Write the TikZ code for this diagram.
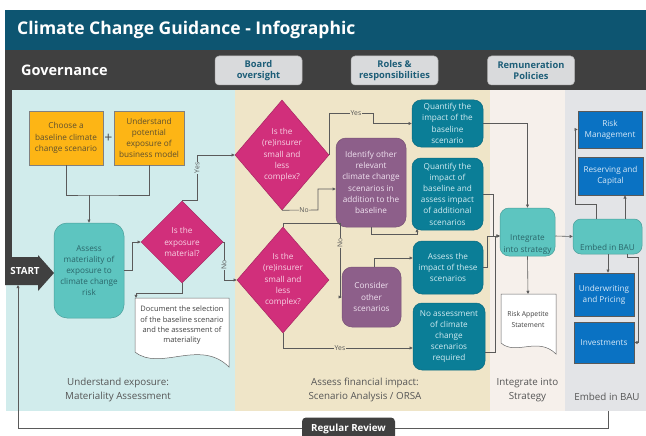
\documentclass[tikz,border=0pt]{standalone}
\usepackage{fontspec}
\setmainfont{Open Sans}
\usetikzlibrary{arrows.meta,shapes.geometric,calc}

\definecolor{titlebar}{HTML}{0D5571}
\definecolor{govbar}{HTML}{404040}
\definecolor{pillfill}{HTML}{D9DADC}
\definecolor{pilltext}{HTML}{1E5E78}
\definecolor{panelA}{HTML}{D1ECEC}
\definecolor{panelB}{HTML}{EFE5C8}
\definecolor{panelC}{HTML}{F6F0EB}
\definecolor{panelD}{HTML}{E3E4E7}
\definecolor{orangefill}{HTML}{FDB515}
\definecolor{orangetext}{HTML}{5E4F2E}
\definecolor{ltealfill}{HTML}{5DC5C0}
\definecolor{ltealtext}{HTML}{2A666A}
\definecolor{diafill}{HTML}{D12F7B}
\definecolor{diatext}{HTML}{F7D3E4}
\definecolor{purplefill}{HTML}{8D5F8A}
\definecolor{purpletext}{HTML}{F0E2F0}
\definecolor{dtealfill}{HTML}{0B7E97}
\definecolor{dtealtext}{HTML}{D2ECF2}
\definecolor{bluefill}{HTML}{0A72C3}
\definecolor{bluetext}{HTML}{D6E8F7}
\definecolor{linegray}{HTML}{5A5A5A}
\definecolor{labelgray}{HTML}{555555}

\begin{document}
\begin{tikzpicture}[x=1pt,y=-1pt,
  conn/.style={draw=linegray, line width=0.6pt},
  arr/.style={conn, -{Triangle[length=3.2pt,width=3pt]}},
  yn/.style={font=\fontsize{6.8}{7}\selectfont, text=labelgray, inner sep=0.7pt},
  boxtxt/.style={font=\fontsize{8.2}{11.2}\selectfont, align=center, inner sep=0pt},
  obox/.style={boxtxt, rectangle, fill=orangefill, draw=gray, line width=0.5pt, text=orangetext},
  lbox/.style={boxtxt, rectangle, rounded corners=9pt, fill=ltealfill, draw=ltealfill!80!black, line width=0.5pt, text=ltealtext},
  dbox/.style={boxtxt, rectangle, rounded corners=9pt, fill=dtealfill, draw=dtealfill!85!black, line width=0.5pt, text=dtealtext},
  pbox/.style={boxtxt, rectangle, rounded corners=10pt, fill=purplefill, draw=purplefill!85!black, line width=0.5pt, text=purpletext},
  bbox/.style={boxtxt, rectangle, fill=bluefill, draw=gray!70!black, line width=0.6pt, text=bluetext},
  dia/.style={diamond, fill=diafill, draw=diafill!80!black, line width=0.5pt, inner sep=0pt},
  diatxt/.style={boxtxt, text=diatext},
  doctxt/.style={font=\fontsize{7.5}{10.3}\selectfont, align=center, inner sep=0pt, text=black!75},
  docshape/.style={fill=white, draw=gray!80!black, line width=0.5pt},
  pill/.style={rectangle, rounded corners=4pt, fill=pillfill, draw=gray!60, line width=0.5pt, text=pilltext,
    font=\fontsize{9.3}{11.5}\bfseries\selectfont, align=center, minimum width=87pt, minimum height=29pt, inner sep=0pt},
  panellabel/.style={font=\fontsize{9.8}{13.5}\selectfont, text=labelgray, align=center, inner sep=0pt}
]
\useasboundingbox (0,0) rectangle (646,436);
\fill[white] (0,0) rectangle (646,436);

% stage panels
\fill[panelA] (6,90) rectangle (235,411);
\fill[panelB] (235,90) rectangle (490,411);
\fill[panelC] (490,90) rectangle (565,411);
\fill[panelD] (565,90) rectangle (646,411);

% header bars
\fill[titlebar] (5,10) rectangle (646,50);
\fill[govbar] (5,50) rectangle (646,90);
\fill[govbar] (5,90) rectangle (12,257);
\node[anchor=west, text=white, font=\fontsize{17.5}{20}\bfseries\selectfont, inner sep=0pt] (title) at (17,30) {Climate Change Guidance - Infographic};
\node[anchor=west, text=white, font=\fontsize{14.5}{16}\bfseries\selectfont, inner sep=0pt] (gov) at (21,70) {Governance};
\node[pill] (board) at (258.5,70.5) {Board\\oversight};
\node[pill] (roles) at (394.5,70.5) {Roles \&\\responsibilities};
\node[pill] (remun) at (531,70.5) {Remuneration\\Policies};

% start marker
\fill[govbar] (5,257) -- (38,257) -- (38,255) -- (54,273) -- (38,291) -- (38,285) -- (5,285) -- cycle;
\node[text=white, font=\fontsize{9.8}{11}\bfseries\selectfont, inner sep=0pt] (start) at (25,271) {START};
\coordinate (startfoot) at (18,285);

% understand exposure
\node[obox, minimum width=74pt, minimum height=54pt] (choose) at (66,138) {Choose a\\baseline climate\\change scenario};
\node[text=black!70, font=\fontsize{14}{14}\selectfont, inner sep=0pt] (plus) at (108.5,138) {+};
\node[obox, minimum width=70pt, minimum height=54pt] (underst) at (149,138) {Understand\\potential\\exposure of\\business model};
\node[lbox, rounded corners=13pt, minimum width=70pt, minimum height=95pt] (assess) at (89,270.5) {Assess\\materiality of\\exposure to\\climate change\\risk};
\node[dia, minimum width=82pt, minimum height=82pt] (dexp) at (182,242) {};
\node[diatxt] at (dexp.center) {Is the\\exposure\\material?};

\draw[docshape] (135,298) -- (229,298) -- (229,367) .. controls (200,338) and (160,372) .. (135,352) -- cycle;
\node[doctxt] (docmat) at (182,325.5) {Document the selection\\of the baseline scenario\\and the assessment of\\materiality};
\coordinate (docmattop) at (136,298);

\coordinate (merge) at (89,195);
\draw[conn] (choose.south) |- (merge) -| (underst.south);
\draw[arr] (merge) -- (assess.north);
\draw[arr] (assess.east) -- ++(8,0) |- (dexp.west);
\draw[arr] (dexp.south) -- ++(0,10) -| (docmattop);

% scenario analysis
\node[dia, minimum width=94pt, minimum height=110pt] (dsmall) at (282,155) {};
\node[diatxt] at (dsmall.center) {Is the\\(re)insurer\\small and\\less\\complex?};
\node[dia, minimum width=92pt, minimum height=106pt] (dsmallb) at (283,280) {};
\node[diatxt] at (dsmallb.center) {Is the\\(re)insurer\\small and\\less\\complex?};

\node[pbox, minimum width=70pt, minimum height=89pt] (identify) at (371,182.5) {Identify other\\relevant\\climate change\\scenarios in\\addition to the\\baseline};
\node[pbox, minimum width=59pt, minimum height=60pt] (consider) at (371.5,297) {Consider\\other\\scenarios};

\node[dbox, minimum width=71pt, minimum height=47pt] (qbase) at (447.5,123.5) {Quantify the\\impact of the\\baseline\\scenario};
\node[dbox, minimum width=71pt, minimum height=72pt] (qadd) at (447.5,194) {Quantify the\\impact of\\baseline and\\assess impact\\of additional\\scenarios};
\node[dbox, minimum width=70pt, minimum height=53pt] (athese) at (448,267.5) {Assess the\\impact of these\\scenarios};
\node[dbox, minimum width=72pt, minimum height=67pt] (noassess) at (449,336.5) {No assessment\\of climate\\change\\scenarios\\required};

\draw[arr] (dexp.north) -| (197,155) -- (dsmall.west);
\node[yn, fill=panelA, rotate=90] (yes1) at (197,168) {Yes};
\draw[arr] (dexp.east) -- (224,242) |- (dsmallb.west);
\node[yn, fill=panelA, rotate=90] (no1) at (224,265) {No};

\draw[arr] (dsmall.east) |- (373,113) |- (qbase.west);
\node[yn, fill=panelB] (yes2) at (356,113) {Yes};
\draw[arr] (dsmall.south) -- (318,210) |- ($(identify.west)+(0,6.5)$);
\node[yn, fill=panelB] (no2) at (304,210) {No};
\draw[arr] (identify.south) |- (417,234) -- (417,229);

\draw[arr] (dsmallb.north) |- (340,223) |- (consider.west);
\node[yn, fill=panelB, rotate=90] (no3) at (340,243) {No};
\draw[arr] (dsmallb.south) |- ($(noassess.west)+(0,11.5)$);
\node[yn, fill=panelB] (yes3) at (340,348) {Yes};
\draw[arr] ($(consider.north)+(3,0)$) |- ($(athese.west)+(0,-9.5)$);

% integrate into strategy
\node[lbox, minimum width=55pt, minimum height=48pt] (integ) at (527.5,232) {};
\node[boxtxt, text=ltealtext] (integtxt) at (527.5,244.5) {Integrate\\into strategy};
\draw[docshape] (501,294) -- (556,294) -- (556,354) .. controls (538,336) and (516,356) .. (501,343) -- cycle;
\node[font=\fontsize{6.8}{10.5}\selectfont, align=center, inner sep=0pt, text=black!75] (ras) at (528,319.5) {Risk Appetite\\Statement};
\coordinate (rastop) at (528,294);

\draw[arr] (qbase.east) -| (integ.north);
\draw[arr] (qadd.east) -| (493,236) -- ($(integ.west)+(0,4)$);
\draw[arr] (athese.east) -| (487,236) -- ($(integ.west)+(0,4)$);
\draw[arr] ($(noassess.east)+(0,15.5)$) -| (495,236) -- ($(integ.west)+(0,4)$);
\draw[arr] (integ.south) -- (rastop);

% embed in BAU
\node[lbox, rounded corners=8pt, minimum width=69pt, minimum height=35pt] (embed) at (607.5,236.5) {};
\node[boxtxt, text=ltealtext] (embedtxt) at (607.5,247) {Embed in BAU};
\node[bbox, minimum width=64pt, minimum height=37pt] (riskm) at (610,129.5) {Risk\\Management};
\node[bbox, minimum width=65pt, minimum height=38pt] (resv) at (610.5,176) {Reserving and\\Capital};
\node[bbox, minimum width=60pt, minimum height=43pt] (uwp) at (604,294.5) {Underwriting\\and Pricing};
\node[bbox, minimum width=60pt, minimum height=41pt] (inv) at (604,342.5) {Investments};

\draw[arr] ($(integ.east)+(0,4)$) -- (embed.west);
\draw[arr] ($(embed.north)+(-11.5,0)$) |- (575,204) |- (riskm.west);
\draw[arr] ($(embed.north)+(17.5,0)$) -- ($(resv.south)+(14.5,0)$);
\draw[arr] ($(embed.south)+(0.5,0)$) -- ($(uwp.north)+(4,0)$);
\draw[arr] ($(embed.south)+(19.5,0)$) |- (638,257) |- (inv.east);

% stage captions
\node[panellabel] (capA) at (118,390) {Understand exposure:\\Materiality Assessment};
\node[panellabel] (capB) at (365,390) {Assess financial impact:\\Scenario Analysis / ORSA};
\node[panellabel] (capC) at (527.5,390) {Integrate into\\Strategy};
\node[panellabel] (capD) at (607,397) {Embed in BAU};

% review loop
\coordinate (loopend) at (608,411);
\draw[arr] (loopend) |- (18,428) -- (startfoot);
\node[rectangle, rounded corners=4pt, fill=govbar, text=white, font=\fontsize{9.8}{11}\bfseries\selectfont,
  minimum width=93pt, minimum height=22pt, inner sep=0pt] (review) at (348.5,428.5) {Regular Review};
\end{tikzpicture}
\end{document}
